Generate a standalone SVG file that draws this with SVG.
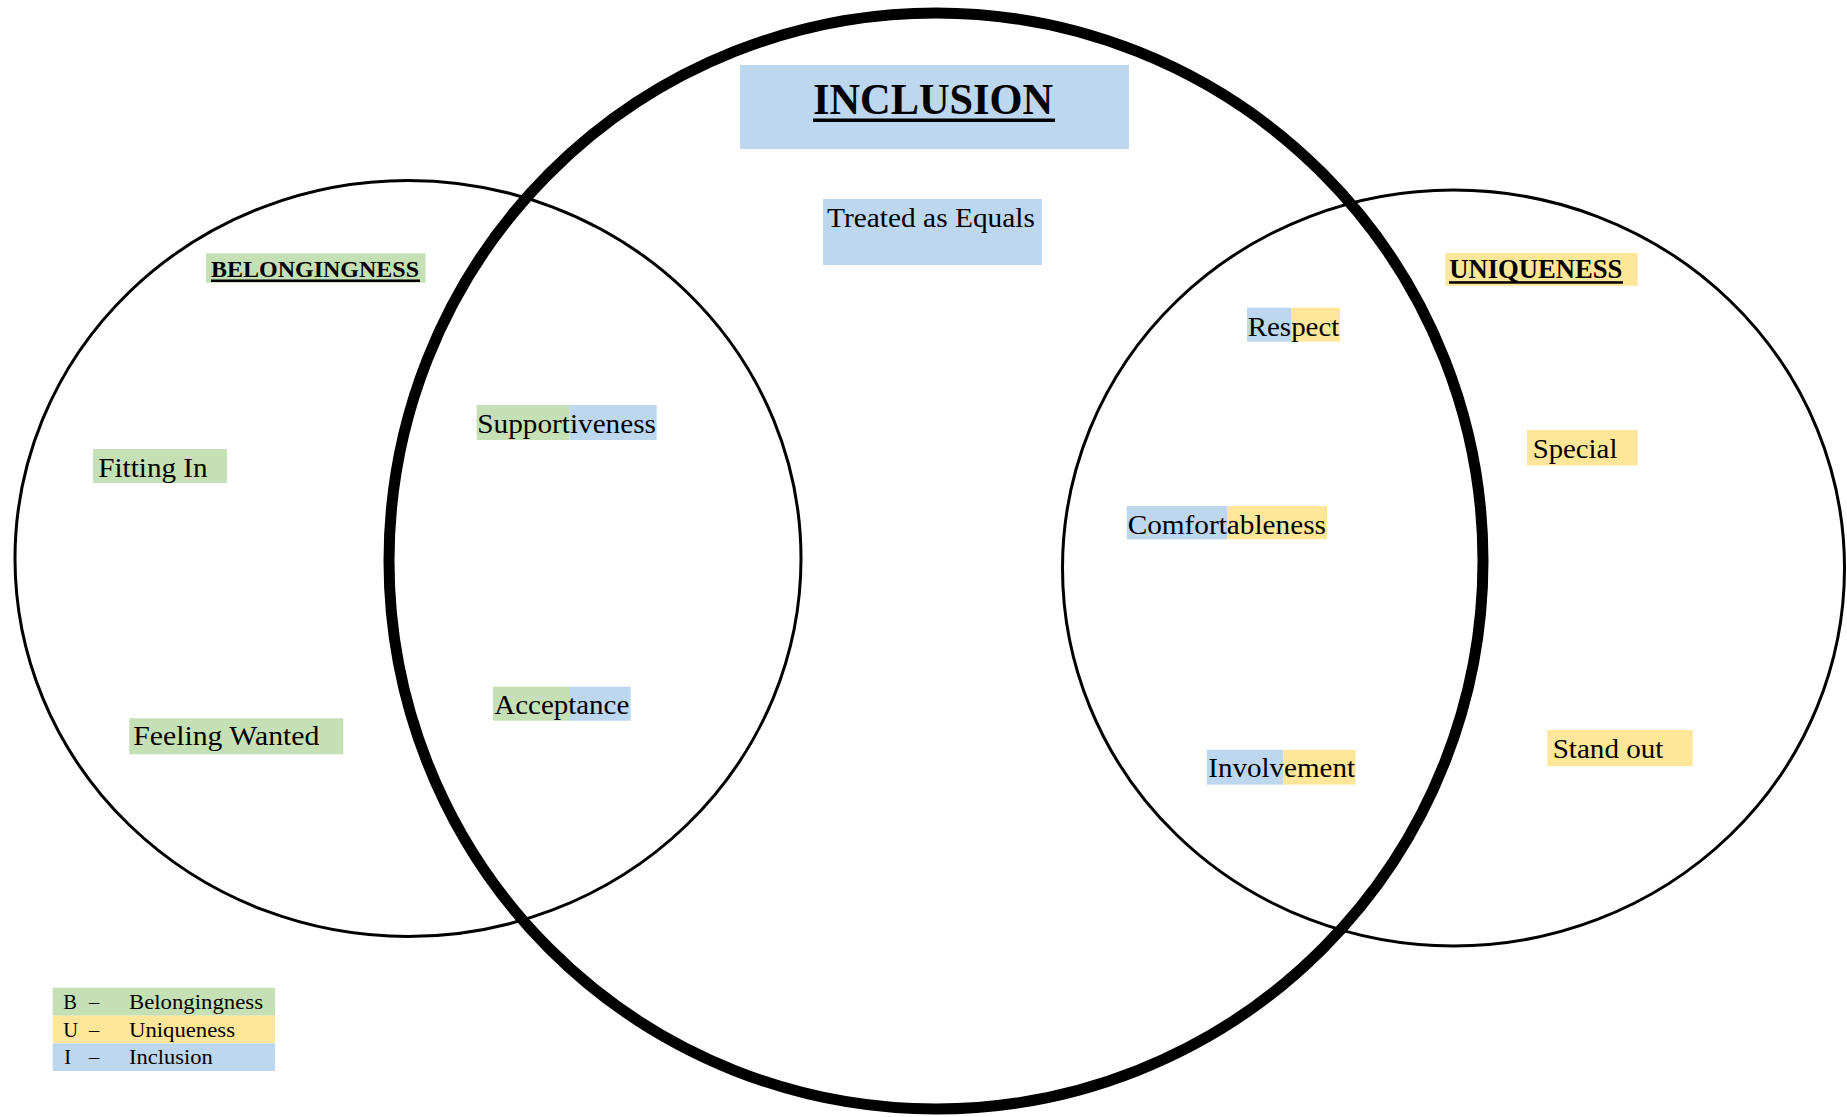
<svg xmlns="http://www.w3.org/2000/svg" width="1847" height="1117" viewBox="0 0 1847 1117">
  <style>
    .ring { fill: none; stroke: #000; }
    .thin { stroke-width: 3; }
    .thick { stroke-width: 11; }
    .lbl { font-family: "Liberation Serif", "Times New Roman", serif; fill: #000; }
    .body { font-size: 27.5px; }
    .head { font-weight: bold; }
    .key { font-size: 20.5px; }
    .g { fill: #C5E0B4; }
    .y { fill: #FFE699; }
    .b { fill: #BDD7EE; }
  </style>

  <rect width="1847" height="1117" fill="#fff"/>

  <!-- the three overlapping sets -->
  <g id="circles">
    <ellipse id="set-belongingness" class="ring thin" cx="408" cy="558.5" rx="393" ry="378"/>
    <ellipse id="set-uniqueness" class="ring thin" cx="1453.5" cy="568" rx="391" ry="378"/>
    <ellipse id="set-inclusion" class="ring thick" cx="936" cy="561" rx="547" ry="548"/>
  </g>

  <!-- set titles -->
  <g id="title-inclusion">
    <rect class="b" x="740" y="65" width="389" height="84"/>
    <text class="lbl head" x="813" y="114" font-size="43.5" textLength="240" lengthAdjust="spacingAndGlyphs">INCLUSION</text>
    <rect x="813" y="118.5" width="242" height="3.5" fill="#000"/>
  </g>
  <g id="title-belongingness">
    <rect class="g" x="206" y="253.3" width="219.5" height="29.5"/>
    <text class="lbl head" x="211" y="277.3" font-size="23.7" textLength="208" lengthAdjust="spacingAndGlyphs">BELONGINGNESS</text>
    <rect x="211" y="279.5" width="209" height="2.5" fill="#000"/>
  </g>
  <g id="title-uniqueness">
    <rect class="y" x="1445.3" y="253" width="192.4" height="32.8"/>
    <text class="lbl head" x="1449.3" y="278" font-size="26.5" textLength="173" lengthAdjust="spacingAndGlyphs">UNIQUENESS</text>
    <rect x="1449" y="281.2" width="174" height="2.5" fill="#000"/>
  </g>

  <!-- inclusion only -->
  <g id="treated-as-equals">
    <rect class="b" x="823" y="199" width="219" height="66"/>
    <text class="lbl body" x="827" y="227" textLength="208" lengthAdjust="spacingAndGlyphs">Treated as Equals</text>
  </g>

  <!-- belongingness only -->
  <g id="fitting-in">
    <rect class="g" x="93" y="449" width="134" height="34"/>
    <text class="lbl body" x="98.3" y="476.7" textLength="109.3" lengthAdjust="spacingAndGlyphs">Fitting In</text>
  </g>
  <g id="feeling-wanted">
    <rect class="g" x="129.3" y="718.3" width="214" height="36"/>
    <text class="lbl body" x="133.3" y="745" textLength="186" lengthAdjust="spacingAndGlyphs">Feeling Wanted</text>
  </g>

  <!-- belongingness + inclusion -->
  <g id="supportiveness">
    <rect class="g" x="476.7" y="405" width="92.6" height="35"/>
    <rect class="b" x="569.3" y="405" width="87.4" height="35"/>
    <text class="lbl body" x="477.3" y="433.3" textLength="178.7" lengthAdjust="spacingAndGlyphs">Supportiveness</text>
  </g>
  <g id="acceptance">
    <rect class="g" x="493" y="686.7" width="76" height="34"/>
    <rect class="b" x="569" y="686.7" width="61.7" height="34"/>
    <text class="lbl body" x="494.3" y="714" textLength="135" lengthAdjust="spacingAndGlyphs">Acceptance</text>
  </g>

  <!-- inclusion + uniqueness -->
  <g id="respect">
    <rect class="b" x="1247" y="307.7" width="44" height="34"/>
    <rect class="y" x="1291" y="307.7" width="49" height="34"/>
    <text class="lbl body" x="1247.7" y="335.7" textLength="91.7" lengthAdjust="spacingAndGlyphs">Respect</text>
  </g>
  <g id="comfortableness">
    <rect class="b" x="1126.7" y="506" width="100.3" height="33.3"/>
    <rect class="y" x="1227" y="506" width="100" height="33.3"/>
    <text class="lbl body" x="1127.7" y="534.3" textLength="198.3" lengthAdjust="spacingAndGlyphs">Comfortableness</text>
  </g>
  <g id="involvement">
    <rect class="b" x="1206.8" y="749.8" width="76.6" height="34.8"/>
    <rect class="y" x="1283.4" y="749.8" width="72.1" height="34.8"/>
    <text class="lbl body" x="1208.3" y="777.3" textLength="146.7" lengthAdjust="spacingAndGlyphs">Involvement</text>
  </g>

  <!-- uniqueness only -->
  <g id="special">
    <rect class="y" x="1527" y="430.1" width="110.7" height="35.4"/>
    <text class="lbl body" x="1532.7" y="457.6" textLength="84.7" lengthAdjust="spacingAndGlyphs">Special</text>
  </g>
  <g id="stand-out">
    <rect class="y" x="1547.3" y="730" width="145.4" height="36.2"/>
    <text class="lbl body" x="1552.7" y="757.6" textLength="110.7" lengthAdjust="spacingAndGlyphs">Stand out</text>
  </g>

  <!-- colour key -->
  <g id="legend">
    <rect class="g" x="52.7" y="987.7" width="222.3" height="28"/>
    <rect class="y" x="52.7" y="1015.7" width="222.3" height="27.6"/>
    <rect class="b" x="52.7" y="1043.3" width="222.3" height="27.7"/>
    <text class="lbl key" y="1009"><tspan x="63.3">B</tspan><tspan x="89">–</tspan><tspan x="129" textLength="134" lengthAdjust="spacingAndGlyphs">Belongingness</tspan></text>
    <text class="lbl key" y="1036.7"><tspan x="63.3">U</tspan><tspan x="89">–</tspan><tspan x="129" textLength="106" lengthAdjust="spacingAndGlyphs">Uniqueness</tspan></text>
    <text class="lbl key" y="1064.3"><tspan x="64.3">I</tspan><tspan x="89">–</tspan><tspan x="129" textLength="83.7" lengthAdjust="spacingAndGlyphs">Inclusion</tspan></text>
  </g>
</svg>
